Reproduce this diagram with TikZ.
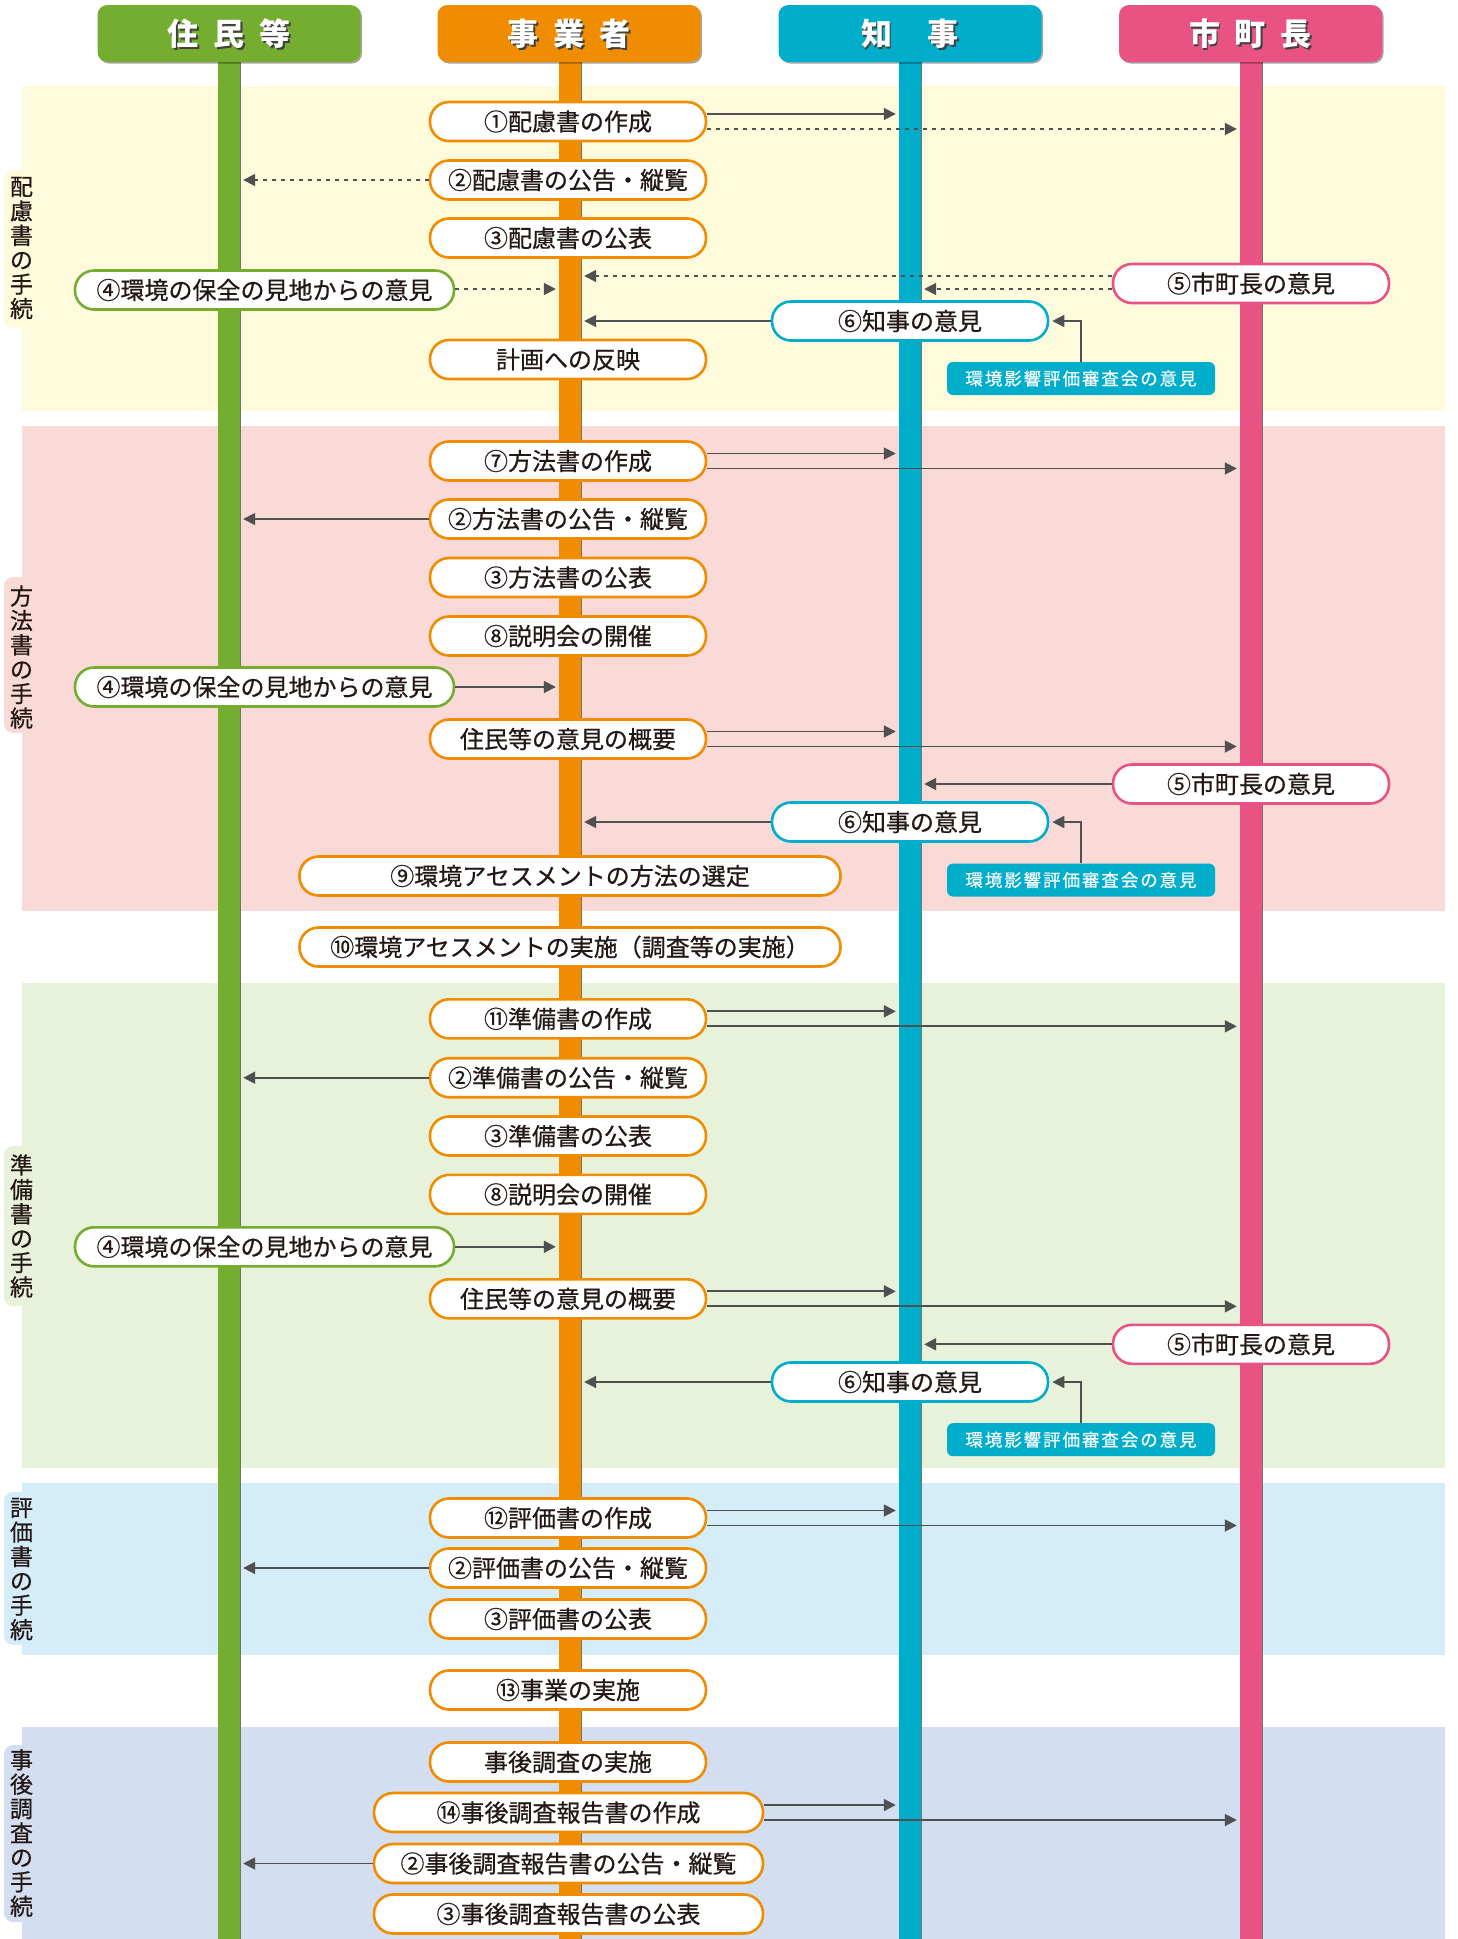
\documentclass[tikz,border=0pt]{standalone}
\usepackage{fontspec}
\setmainfont{Noto Sans CJK JP}
\usetikzlibrary{arrows.meta,shadows,calc}
\definecolor{cg}{HTML}{74AD2F}
\definecolor{co}{HTML}{F08C00}
\definecolor{cc}{HTML}{00AECB}
\definecolor{cp}{HTML}{E95383}
\definecolor{txt}{HTML}{231815}
\definecolor{arrc}{HTML}{505050}
\definecolor{bY}{HTML}{FEFBDD}
\definecolor{bP}{HTML}{F9DAD6}
\definecolor{bG}{HTML}{E8F1D9}
\definecolor{bB}{HTML}{D5ECF9}
\definecolor{bL}{HTML}{D3DEF0}
\begin{document}
\begin{tikzpicture}[x=1pt,y=-1pt,
  pbox/.style={draw=#1, line width=2.6pt, fill=white, rounded corners=19pt, minimum height=39pt, minimum width=276pt, inner sep=0pt, text=txt, font=\fontsize{24}{24}\selectfont\addfontfeatures{FakeBold=0.6}},
  hdr/.style={fill=#1, rounded corners=10pt, minimum width=263pt, minimum height=57pt, inner sep=0pt, drop shadow={shadow xshift=1.5pt, shadow yshift=-1.5pt, fill=black, opacity=0.35}},
  hdrs/.style={text=black!75, inner sep=0pt, font=\bfseries\fontsize{31}{31}\selectfont},
  lane/.style={fill=#1, minimum width=22pt, minimum height=1877pt, inner sep=0pt},
  arr/.style={draw=arrc, line width=1.8pt, -{Triangle[length=12pt,width=12pt]}, shorten >=3pt},
  dot/.style={arr, dash pattern=on 4pt off 5pt},
  lbl/.style={align=center, text=txt, font=\fontsize{23}{24.4}\selectfont\addfontfeatures{FakeBold=0.6}, inner sep=0pt},
  sbox/.style={fill=cc, rounded corners=6pt, minimum width=268pt, minimum height=33pt, inner sep=0pt, text=white, font=\fontsize{17.5}{17.5}\selectfont\addfontfeatures{LetterSpace=11,FakeBold=0.4}},
]
\useasboundingbox (0,0) rectangle (1458,1939);
% bands
\fill[bY] (22,86) rectangle (1445,411);
\fill[bP] (22,426) rectangle (1445,910.8);
\fill[bG] (22,983) rectangle (1445,1468);
\fill[bB] (22,1483) rectangle (1445,1655);
\fill[bL] (22,1727) rectangle (1445,1939);
% tabs
\fill[bY, rounded corners=9pt] (4,170) rectangle (34,328);
\fill[bP, rounded corners=9pt] (4,577) rectangle (34,733);
\fill[bG, rounded corners=9pt] (4,1146) rectangle (34,1306);
\fill[bB, rounded corners=9pt] (4,1492) rectangle (34,1645);
\fill[bL, rounded corners=9pt] (4,1745) rectangle (34,1922);
\node[lbl] (L1) at (21.5,248) {配\\慮\\書\\の\\手\\続};
\node[lbl] (L2) at (21.5,657) {方\\法\\書\\の\\手\\続};
\node[lbl] (L3) at (21.5,1226) {準\\備\\書\\の\\手\\続};
\node[lbl] (L4) at (21.5,1569) {評\\価\\書\\の\\手\\続};
\node[lbl] (L5) at (21.5,1833) {事\\後\\調\\査\\の\\手\\続};
% lanes
\node[lane=cg] (LG) at (229,1000.5) {};
\node[lane=co] (LO) at (570,1000.5) {};
\node[lane=cc] (LC) at (910,1000.5) {};
\node[lane=cp] (LP) at (1251,1000.5) {};
\foreach \n in {LG,LO,LC,LP}{\draw[black!55, line width=1.2pt] (\n.north east) -- (\n.south east);}
% headers
\node[hdr=cg] (H1) at (229,33.5) {};
\node[hdr=co] (H2) at (569,33.5) {};
\node[hdr=cc] (H3) at (910,33.5) {};
\node[hdr=cp] (H4) at (1250.5,33.5) {};
\node[hdrs] (H1s) at ($(H1.center)+(1.8,1.8)$) {住\hspace{15pt}民\hspace{15pt}等};
\node[hdrs] (H2s) at ($(H2.center)+(1.8,1.8)$) {事\hspace{15pt}業\hspace{15pt}者};
\node[hdrs] (H3s) at ($(H3.center)+(1.8,1.8)$) {知\hspace{36pt}事};
\node[hdrs] (H4s) at ($(H4.center)+(1.8,1.8)$) {市\hspace{15pt}町\hspace{15pt}長};
\node[hdrs, text=white] (H1t) at (H1.center) {住\hspace{15pt}民\hspace{15pt}等};
\node[hdrs, text=white] (H2t) at (H2.center) {事\hspace{15pt}業\hspace{15pt}者};
\node[hdrs, text=white] (H3t) at (H3.center) {知\hspace{36pt}事};
\node[hdrs, text=white] (H4t) at (H4.center) {市\hspace{15pt}町\hspace{15pt}長};

% Section 1
\path (568,121.5) node[pbox=co] (a1) {①配慮書の作成};
\path (568,180) node[pbox=co] (a2) {②配慮書の公告・縦覧};
\path (568,238) node[pbox=co] (a3) {③配慮書の公表};
\path (264.5,290) node[pbox=cg, minimum width=379pt] (a4) {④環境の保全の見地からの意見};
\path (1251,283.5) node[pbox=cp] (a5) {⑤市町長の意見};
\path (910,321) node[pbox=cc] (a6) {⑥知事の意見};
\path (568,359.5) node[pbox=co] (a7) {計画への反映};
\path (1081,378.5) node[sbox] (as) {環境影響評価審査会の意見};
% Section 2
\path (568,461) node[pbox=co] (b1) {⑦方法書の作成};
\path (568,519) node[pbox=co] (b2) {②方法書の公告・縦覧};
\path (568,577.5) node[pbox=co] (b3) {③方法書の公表};
\path (568,636) node[pbox=co] (b8) {⑧説明会の開催};
\path (264.5,687) node[pbox=cg, minimum width=379pt] (b4) {④環境の保全の見地からの意見};
\path (568,739) node[pbox=co] (bz) {住民等の意見の概要};
\path (1251,784) node[pbox=cp] (b5) {⑤市町長の意見};
\path (910,822) node[pbox=cc] (b6) {⑥知事の意見};
\path (570,876) node[pbox=co, minimum width=541pt] (b9) {⑨環境アセスメントの方法の選定};
\path (1081,880) node[sbox] (bs) {環境影響評価審査会の意見};
\path (570,947) node[pbox=co, minimum width=541pt] (b10) {⑩環境アセスメントの実施（調査等の実施）};
% Section 3
\path (568,1018.8) node[pbox=co] (d1) {⑪準備書の作成};
\path (568,1077.7) node[pbox=co] (d2) {②準備書の公告・縦覧};
\path (568,1136) node[pbox=co] (d3) {③準備書の公表};
\path (568,1194.4) node[pbox=co] (d8) {⑧説明会の開催};
\path (264.5,1246.8) node[pbox=cg, minimum width=379pt] (d4) {④環境の保全の見地からの意見};
\path (568,1298.8) node[pbox=co] (dz) {住民等の意見の概要};
\path (1251,1344.3) node[pbox=cp] (d5) {⑤市町長の意見};
\path (910,1382) node[pbox=cc] (d6) {⑥知事の意見};
\path (1081,1439.7) node[sbox] (ds) {環境影響評価審査会の意見};
% Section 4
\path (568,1518) node[pbox=co] (e1) {⑫評価書の作成};
\path (568,1568) node[pbox=co] (e2) {②評価書の公告・縦覧};
\path (568,1619) node[pbox=co] (e3) {③評価書の公表};
\path (568,1690) node[pbox=co] (e13) {⑬事業の実施};
% Section 5
\path (568,1762) node[pbox=co] (f0) {事後調査の実施};
\path (568.5,1812.5) node[pbox=co, minimum width=389pt] (f1) {⑭事後調査報告書の作成};
\path (568.5,1863.5) node[pbox=co, minimum width=389pt] (f2) {②事後調査報告書の公告・縦覧};
\path (568.5,1914) node[pbox=co, minimum width=389pt] (f3) {③事後調査報告書の公表};

% ---------- arrows ----------
% Section 1
\draw[arr] ([yshift=7.5pt]a1.east) -- ([yshift=7.5pt]a1.east -| LC.west);
\draw[dot] ([yshift=-7.5pt]a1.east) -- ([yshift=-7.5pt]a1.east -| LP.west);
\draw[dot] (a2.west) -- (a2.west -| LG.east);
\draw[dot] ([yshift=7.5pt]a5.west) -- ([yshift=7.5pt]a5.west -| LO.east);
\draw[dot] ([yshift=-5.5pt]a5.west) -- ([yshift=-5.5pt]a5.west -| LC.east);
\draw[dot] ([yshift=1pt]a4.east) -- ([yshift=1pt]a4.east -| LO.west);
\draw[arr] (a6.west) -- (a6.west -| LO.east);
\draw[arr, line width=1.5pt] (as.north) |- (a6.east);
% Section 2
\draw[arr] ([yshift=7.5pt]b1.east) -- ([yshift=7.5pt]b1.east -| LC.west);
\draw[arr] ([yshift=-7.5pt]b1.east) -- ([yshift=-7.5pt]b1.east -| LP.west);
\draw[arr] (b2.west) -- (b2.west -| LG.east);
\draw[arr] (b4.east) -- (b4.east -| LO.west);
\draw[arr] ([yshift=7.5pt]bz.east) -- ([yshift=7.5pt]bz.east -| LC.west);
\draw[arr] ([yshift=-7.5pt]bz.east) -- ([yshift=-7.5pt]bz.east -| LP.west);
\draw[arr] (b5.west) -- (b5.west -| LC.east);
\draw[arr] (b6.west) -- (b6.west -| LO.east);
\draw[arr, line width=1.5pt] (bs.north) |- (b6.east);
% Section 3
\draw[arr] ([yshift=7.5pt]d1.east) -- ([yshift=7.5pt]d1.east -| LC.west);
\draw[arr] ([yshift=-7.5pt]d1.east) -- ([yshift=-7.5pt]d1.east -| LP.west);
\draw[arr] (d2.west) -- (d2.west -| LG.east);
\draw[arr] (d4.east) -- (d4.east -| LO.west);
\draw[arr] ([yshift=7.5pt]dz.east) -- ([yshift=7.5pt]dz.east -| LC.west);
\draw[arr] ([yshift=-7.5pt]dz.east) -- ([yshift=-7.5pt]dz.east -| LP.west);
\draw[arr] (d5.west) -- (d5.west -| LC.east);
\draw[arr] (d6.west) -- (d6.west -| LO.east);
\draw[arr, line width=1.5pt] (ds.north) |- (d6.east);
% Section 4
\draw[arr] ([yshift=7.5pt]e1.east) -- ([yshift=7.5pt]e1.east -| LC.west);
\draw[arr] ([yshift=-7.5pt]e1.east) -- ([yshift=-7.5pt]e1.east -| LP.west);
\draw[arr] (e2.west) -- (e2.west -| LG.east);
% Section 5
\draw[arr] ([yshift=7.5pt]f1.east) -- ([yshift=7.5pt]f1.east -| LC.west);
\draw[arr] ([yshift=-7.5pt]f1.east) -- ([yshift=-7.5pt]f1.east -| LP.west);
\draw[arr] (f2.west) -- (f2.west -| LG.east);
\end{tikzpicture}
\end{document}
